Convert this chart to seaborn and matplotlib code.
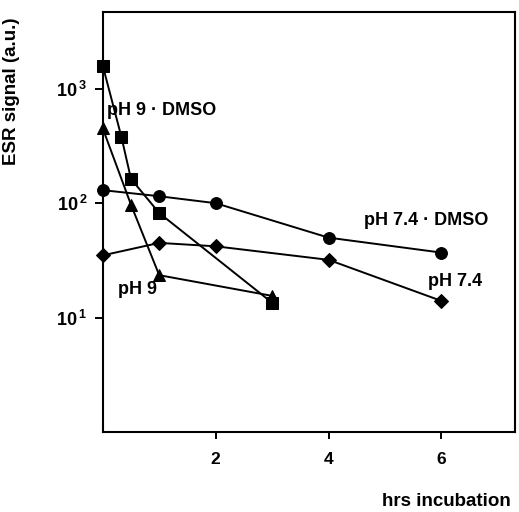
import pandas as pd
import seaborn as sns
import matplotlib
import matplotlib.pyplot as plt

sns.set_theme(style='white')
matplotlib.rcParams['font.family'] = ['Liberation Sans', 'DejaVu Sans']
matplotlib.rcParams['font.weight'] = 'bold'
matplotlib.rcParams['text.color'] = 'black'
matplotlib.rcParams['axes.labelcolor'] = 'black'
matplotlib.rcParams['xtick.color'] = 'black'
matplotlib.rcParams['ytick.color'] = 'black'
matplotlib.rcParams['mathtext.fontset'] = 'custom'
matplotlib.rcParams['mathtext.rm'] = 'Liberation Sans:bold'
matplotlib.rcParams['mathtext.bf'] = 'Liberation Sans:bold'
matplotlib.rcParams['mathtext.default'] = 'bf'

# data
t_ph9_dmso = [0, 0.33, 0.5, 1, 3]
v_ph9_dmso = [1590, 380, 163, 82, 13.5]

t_ph9 = [0, 0.5, 1, 3]
v_ph9 = [450, 97, 23.5, 15.5]

t_ph74_dmso = [0, 1, 2, 4, 6]
v_ph74_dmso = [130, 115, 100, 50, 37]

t_ph74 = [0, 1, 2, 4, 6]
v_ph74 = [35, 45, 42, 32, 14]

series = [
    ('pH 9 · DMSO', t_ph9_dmso, v_ph9_dmso, 's', 8.5),
    ('pH 9', t_ph9, v_ph9, '^', 8),
    ('pH 7.4 · DMSO', t_ph74_dmso, v_ph74_dmso, 'o', 8.5),
    ('pH 7.4', t_ph74, v_ph74, 'D', 7),
]

fig = plt.figure(figsize=(5.19, 5.12), dpi=100)
ax = fig.add_axes([0.198, 0.156, 0.794, 0.821])

for name, t, v, mk, ms in series:
    df = pd.DataFrame({'t': t, 'v': v})
    sns.lineplot(data=df, x='t', y='v', ax=ax, color='black', marker=mk,
                 markersize=ms, markeredgecolor='black', linewidth=1.4,
                 sort=False, legend=False, clip_on=False, zorder=3)

ax.set_yscale('log')
ax.set_xlim(0, 7.3)
ax.set_ylim(1, 4700)

ax.set_xticks([2, 4, 6])
ax.set_xticklabels(['2', '4', '6'], fontsize=12.5, fontweight='bold')
ax.set_yticks([10, 100, 1000])
ax.set_yticklabels([r'$10^{\,1}$', r'$10^{\,2}$', r'$10^{\,3}$'], fontsize=13)
ax.yaxis.set_minor_locator(matplotlib.ticker.NullLocator())
ax.tick_params(axis='both', which='major', direction='out', length=6,
               width=1.4, color='black', pad=5, left=True, bottom=True)
ax.tick_params(axis='x', length=5, pad=9)

for spine in ax.spines.values():
    spine.set_linewidth(1.5)
    spine.set_color('black')

# curve labels
ax.text(0.07, 650, 'pH 9 · DMSO', fontsize=13, fontweight='bold', va='center', ha='left')
ax.text(0.27, 17.6, 'pH 9', fontsize=13, fontweight='bold', va='center', ha='left')
ax.text(4.63, 71, 'pH 7.4 · DMSO', fontsize=13, fontweight='bold', va='center', ha='left')
ax.text(5.77, 20.6, 'pH 7.4', fontsize=13, fontweight='bold', va='center', ha='left')

ax.set_xlabel('hrs incubation', fontsize=13.5, fontweight='bold')
ax.set_ylabel('ESR signal (a.u.)', fontsize=13.5, fontweight='bold')
ax.xaxis.set_label_coords(0.835, -0.145)
ax.yaxis.set_label_coords(-0.20, 0.81)

fig.savefig('out.png', dpi=100)
